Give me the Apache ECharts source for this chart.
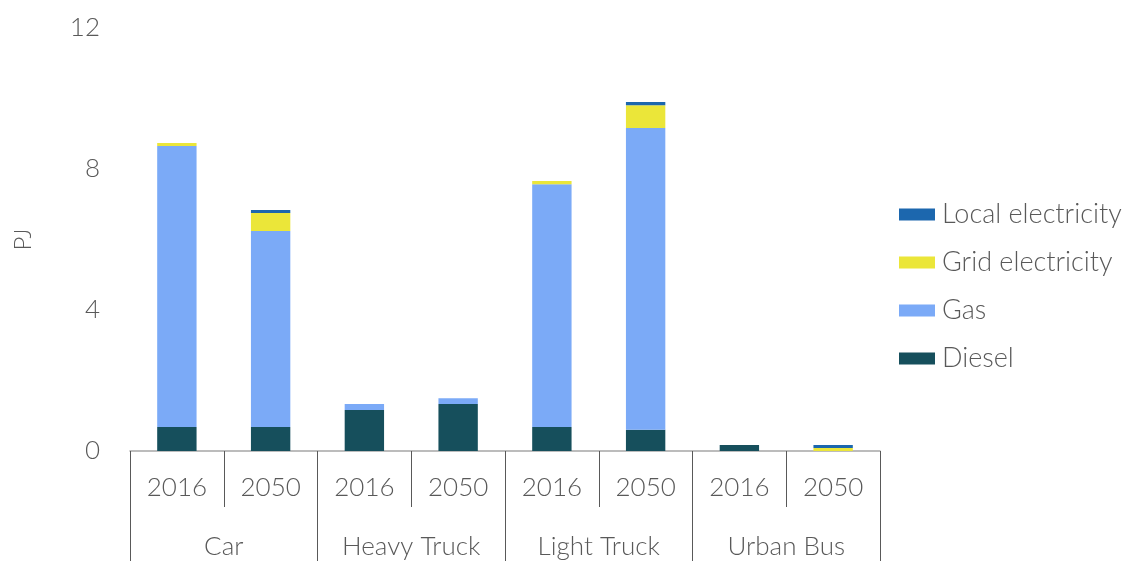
<!DOCTYPE html>
<html>
<head>
<meta charset="utf-8">
<script src="https://cdn.jsdelivr.net/npm/echarts@6/dist/echarts.min.js"></script>
<style>
  html, body { margin: 0; padding: 0; background: #fff; }
  #chart { width: 1126px; height: 561px; }
</style>
</head>
<body>
<div id="chart"></div>
<script>
// Transport fuel demand by vehicle type, 2016 vs 2050 (PJ)
const years = ['2016', '2050', '2016', '2050', '2016', '2050', '2016', '2050'];
const vehicles = ['Car', 'Heavy Truck', 'Light Truck', 'Urban Bus'];
const yTicks = [0, 4, 8, 12];

const diesel          = [0.68, 0.68, 1.16, 1.33, 0.68, 0.60, 0.17, 0];
const gas             = [7.97, 5.56, 0.17, 0.17, 6.89, 8.56, 0, 0];
const gridElectricity = [0.09, 0.51, 0, 0, 0.09, 0.65, 0, 0.085];
const localElectricity= [0, 0.09, 0, 0, 0, 0.09, 0, 0.085];

const FONT = 'Lato';
const TEXT = '#595959';

const chart = echarts.init(document.getElementById('chart'), null, { renderer: 'canvas' });

function bar(name, data, color) {
  return {
    name, type: 'bar', stack: 'total', data,
    barWidth: '42%',
    itemStyle: { color },
    emphasis: { disabled: true }
  };
}

chart.setOption({
  animation: false,
  textStyle: { fontFamily: FONT, fontWeight: 300, color: TEXT },
  grid: { left: 130, right: 246, top: 28, bottom: 110 },
  legend: {
    orient: 'vertical',
    left: 894,
    top: 196,
    itemWidth: 36,
    itemHeight: 12,
    itemGap: 21,
    icon: 'rect',
    data: ['Local electricity', 'Grid electricity', 'Gas', 'Diesel'],
    textStyle: { fontFamily: FONT, fontWeight: 300, fontSize: 27, color: TEXT, padding: [0, 0, 0, 2] }
  },
  xAxis: [
    {
      type: 'category',
      data: years,
      position: 'bottom',
      axisLine: { show: true, lineStyle: { color: '#a6a6a6', width: 1.5 } },
      axisTick: { show: true, alignWithLabel: false, length: 56, lineStyle: { color: '#595959', width: 1 } },
      axisLabel: { margin: 24, fontFamily: FONT, fontWeight: 300, fontSize: 26, color: TEXT }
    },
    {
      type: 'category',
      data: vehicles,
      position: 'bottom',
      axisLine: { show: false },
      axisTick: { show: true, alignWithLabel: false, length: 115, lineStyle: { color: '#595959', width: 1 } },
      axisLabel: { margin: 83, fontFamily: FONT, fontWeight: 300, fontSize: 26, color: TEXT }
    }
  ],
  yAxis: {
    type: 'value',
    min: yTicks[0],
    max: yTicks[yTicks.length - 1],
    interval: yTicks[1] - yTicks[0],
    name: 'PJ',
    nameLocation: 'middle',
    nameGap: 95,
    nameRotate: 90,
    nameTextStyle: { fontFamily: FONT, fontWeight: 300, fontSize: 24, color: TEXT },
    axisLine: { show: false },
    axisTick: { show: false },
    splitLine: { show: false },
    axisLabel: { margin: 30, fontFamily: FONT, fontWeight: 300, fontSize: 26, color: TEXT }
  },
  series: [
    bar('Diesel', diesel, '#164f5c'),
    bar('Gas', gas, '#7baaf7'),
    bar('Grid electricity', gridElectricity, '#ebe639'),
    bar('Local electricity', localElectricity, '#1c67ae')
  ]
});
</script>
</body>
</html>
